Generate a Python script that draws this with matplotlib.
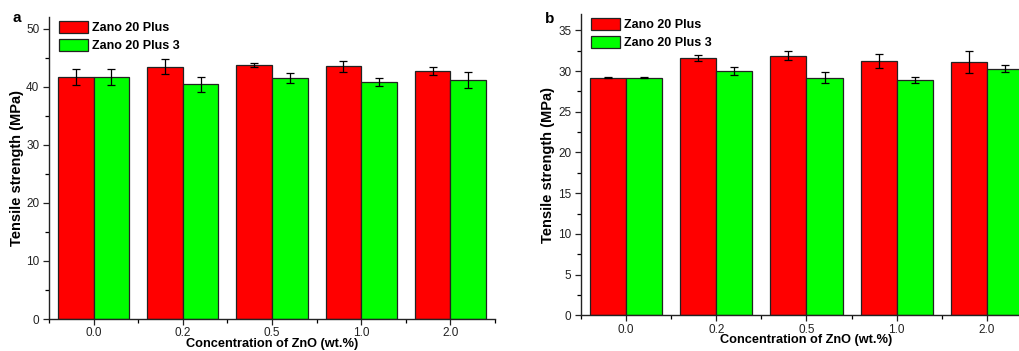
import numpy as np
import matplotlib.pyplot as plt
from matplotlib.ticker import MultipleLocator

plt.rcParams['font.family'] = ['Liberation Sans', 'DejaVu Sans']

# Data
conc_labels = ['0.0', '0.2', '0.5', '1.0', '2.0']
series_names = ['Zano 20 Plus', 'Zano 20 Plus 3']

a_plus = [41.7, 43.4, 43.7, 43.5, 42.7]
a_plus_err = [1.35, 1.3, 0.37, 0.9, 0.75]
a_plus3 = [41.7, 40.4, 41.5, 40.8, 41.1]
a_plus3_err = [1.35, 1.25, 0.9, 0.75, 1.37]

b_plus = [29.2, 31.6, 31.9, 31.2, 31.1]
b_plus_err = [0.1, 0.33, 0.55, 0.86, 1.37]
b_plus3 = [29.2, 30.0, 29.2, 28.9, 30.3]
b_plus3_err = [0.1, 0.49, 0.63, 0.35, 0.45]

fig = plt.figure(figsize=(10.2, 3.51), dpi=100)


def draw_panel(rect, v1, e1, v2, e2, ymax, major, letter, letter_xy,
               ylab_x, xlab_y):
    ax = fig.add_axes(rect)
    x = np.arange(len(conc_labels))
    w = 0.4
    ekw = dict(ecolor='black', elinewidth=0.9, capsize=3, capthick=0.9)
    ax.bar(x - w / 2, v1, w, yerr=e1, color='#ff0000', edgecolor='#222222',
           linewidth=0.9, error_kw=ekw, label=series_names[0])
    ax.bar(x + w / 2, v2, w, yerr=e2, color='#00ff00', edgecolor='#222222',
           linewidth=0.9, error_kw=ekw, label=series_names[1])
    ax.set_xlim(-0.5, 4.5)
    ax.set_ylim(0, ymax)
    ax.set_xticks(x)
    ax.set_xticklabels(conc_labels)
    ax.set_xticks(np.arange(-0.5, 4.6, 1.0), minor=True)
    ax.yaxis.set_major_locator(MultipleLocator(major))
    ax.yaxis.set_minor_locator(MultipleLocator(major / 2))
    ax.tick_params(axis='both', which='major', length=4.5, width=0.9,
                   labelsize=8.5, colors='#222222', pad=2.5)
    ax.tick_params(axis='x', which='major', pad=1.5)
    ax.tick_params(axis='both', which='minor', length=3, width=0.9)
    for s in ['top', 'right']:
        ax.spines[s].set_visible(False)
    for s in ['left', 'bottom']:
        ax.spines[s].set_linewidth(1.0)
        ax.spines[s].set_color('#222222')
    ax.set_xlabel('Concentration of ZnO (wt.%)', fontsize=9.2, fontweight='bold')
    ax.xaxis.set_label_coords(0.5, xlab_y)
    ax.set_ylabel('Tensile strength (MPa)', fontsize=10.5, fontweight='bold')
    ax.yaxis.set_label_coords(ylab_x, 0.5)
    ax.legend(loc='upper left', bbox_to_anchor=(0.0, 1.02), frameon=False,
              prop=dict(size=9, weight='bold'), handlelength=2.3,
              handleheight=1.1, handletextpad=0.35, labelspacing=0.35,
              borderaxespad=0.4)
    fig.text(letter_xy[0], letter_xy[1], letter, fontsize=11, fontweight='bold',
             ha='center', va='center')
    return ax


draw_panel([49 / 1020, 32 / 351, 446 / 1020, 302 / 351],
           a_plus, a_plus_err, a_plus3, a_plus3_err, 52, 10, 'a',
           (17 / 1020, 1 - 18 / 351), -0.056, -0.062)
draw_panel([581 / 1020, 35.7 / 351, 451 / 1020, 301.3 / 351],
           b_plus, b_plus_err, b_plus3, b_plus3_err, 37, 5, 'b',
           (550 / 1020, 1 - 19 / 351), -0.058, -0.063)

fig.savefig('out.png', dpi=100)
